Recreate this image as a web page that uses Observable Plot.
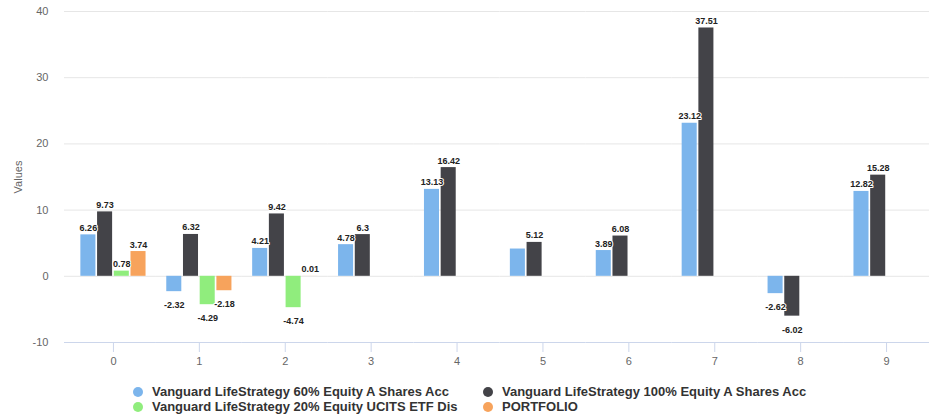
<!DOCTYPE html>
<html>
<head>
<meta charset="utf-8">
<script src="https://cdn.jsdelivr.net/npm/d3@7"></script>
<script src="https://cdn.jsdelivr.net/npm/@observablehq/plot@0.6"></script>
<style>
  html, body { margin: 0; padding: 0; background: #fff; }
  body { width: 929px; height: 418px; overflow: hidden; font-family: "Liberation Sans", Arial, Helvetica, sans-serif; }
  #chart svg { display: block; }
  #legend { display: grid; grid-template-columns: 350px 350px; padding-left: 133px; margin-top: 12px; row-gap: 0px; }
  .item { display: flex; align-items: center; height: 15px; font-size: 13px; font-weight: bold; color: #333; white-space: nowrap; }
  .dot { width: 10px; height: 10px; border-radius: 50%; margin-right: 9px; flex: none; }
</style>
</head>
<body>
<div id="chart"></div>
<div id="legend"></div>
<script>
// ---- data ----
const categories = ["0", "1", "2", "3", "4", "5", "6", "7", "8", "9"];
const seriesNames = [
  "Vanguard LifeStrategy 60% Equity A Shares Acc",
  "Vanguard LifeStrategy 100% Equity A Shares Acc",
  "Vanguard LifeStrategy 20% Equity UCITS ETF Dis",
  "PORTFOLIO"
];
const equity60 = [6.26, -2.32, 4.21, 4.78, 13.13, 4.12, 3.89, 23.12, -2.62, 12.82];
const equity100 = [9.73, 6.32, 9.42, 6.3, 16.42, 5.12, 6.08, 37.51, -6.02, 15.28];
const equity20 = [0.78, -4.29, -4.74, null, null, null, null, null, null, null];
const portfolio = [3.74, -2.18, 0.01, null, null, null, null, null, null, null];
const seriesColors = ["#7cb5ec", "#434348", "#90ed7d", "#f7a35c"];
const yTicks = [-10, 0, 10, 20, 30, 40];
const yLabel = "Values";

// ---- table ----
const seriesValues = [equity60, equity100, equity20, portfolio];
const rows = [];
seriesValues.forEach((vals, si) => {
  vals.forEach((v, ci) => {
    if (v !== null && v !== undefined) rows.push({cat: categories[ci], series: seriesNames[si], si, value: v});
  });
});
// emulate data-label overlap hiding: hide a label when the neighbouring bar's label sits almost at the same height
rows.forEach(r => {
  const next = rows.find(o => o.cat === r.cat && o.si === r.si + 1);
  r.showLabel = !(next && Math.sign(next.value) === Math.sign(r.value) && Math.abs(next.value - r.value) < 1.3);
});
const posLabels = rows.filter(r => r.showLabel && r.value >= 0);
const negLabels = rows.filter(r => r.showLabel && r.value < 0);

const labelFont = {fontSize: 9, fontWeight: "bold", fill: "#222", stroke: "white", strokeWidth: 2, paintOrder: "stroke"};

const chart = Plot.plot({
  width: 929,
  height: 372,
  marginLeft: 70,
  marginRight: 0,
  marginTop: 11,
  marginBottom: 30,
  style: {fontFamily: '"Liberation Sans", Arial, Helvetica, sans-serif', fontSize: "11px", color: "#666", background: "#fff"},
  fx: {domain: categories, range: [70, 929], padding: 0, round: false, axis: "bottom", label: null, tickSize: 10, tickPadding: 5},
  x: {domain: seriesNames, paddingInner: 0.1, paddingOuter: 0.62, round: false, axis: null},
  y: {domain: [-10, 40], ticks: yTicks, tickFormat: d => String(d), tickSize: 6, tickPadding: 16, label: yLabel, labelAnchor: "center", labelOffset: 56, labelArrow: "none"},
  color: {domain: seriesNames, range: seriesColors},
  marks: [
    Plot.ruleY(yTicks.filter(t => t > -10), {stroke: "#e6e6e6"}),
    Plot.barY(rows, {fx: "cat", x: "series", y: "value", fill: "series"}),
    Plot.ruleY([-10], {stroke: "#ccd6eb"}),
    Plot.text(posLabels, {fx: "cat", x: "series", y: "value", text: d => String(d.value), lineAnchor: "bottom", dy: -4, ...labelFont}),
    Plot.text(negLabels, {fx: "cat", x: "series", y: "value", text: d => String(d.value), lineAnchor: "top", dy: 10, ...labelFont})
  ]
});
document.getElementById("chart").appendChild(chart);

// tick colours (Highcharts-like): grid-coloured y ticks, blue-grey category ticks
const svg = d3.select(chart);
svg.selectAll('[aria-label="y-axis tick"]').style("stroke", "#e6e6e6").style("stroke-opacity", 1);
svg.selectAll('[aria-label="y-axis tick"] path').style("stroke", "#e6e6e6").style("stroke-opacity", 1);
svg.selectAll('[aria-label="y-axis tick"] path').filter((d, i) => i === 0).style("stroke", "#ccd6eb");
svg.selectAll('[aria-label="fx-axis tick"]').style("stroke", "#ccd6eb").style("stroke-opacity", 1);
svg.selectAll('[aria-label="fx-axis tick"] path').style("stroke", "#ccd6eb").style("stroke-opacity", 1);

// ---- legend ----
const legend = document.getElementById("legend");
seriesNames.forEach((name, i) => {
  const item = document.createElement("div");
  item.className = "item";
  const dot = document.createElement("span");
  dot.className = "dot";
  dot.style.background = seriesColors[i];
  const txt = document.createElement("span");
  txt.textContent = name;
  item.appendChild(dot);
  item.appendChild(txt);
  legend.appendChild(item);
});
</script>
</body>
</html>
